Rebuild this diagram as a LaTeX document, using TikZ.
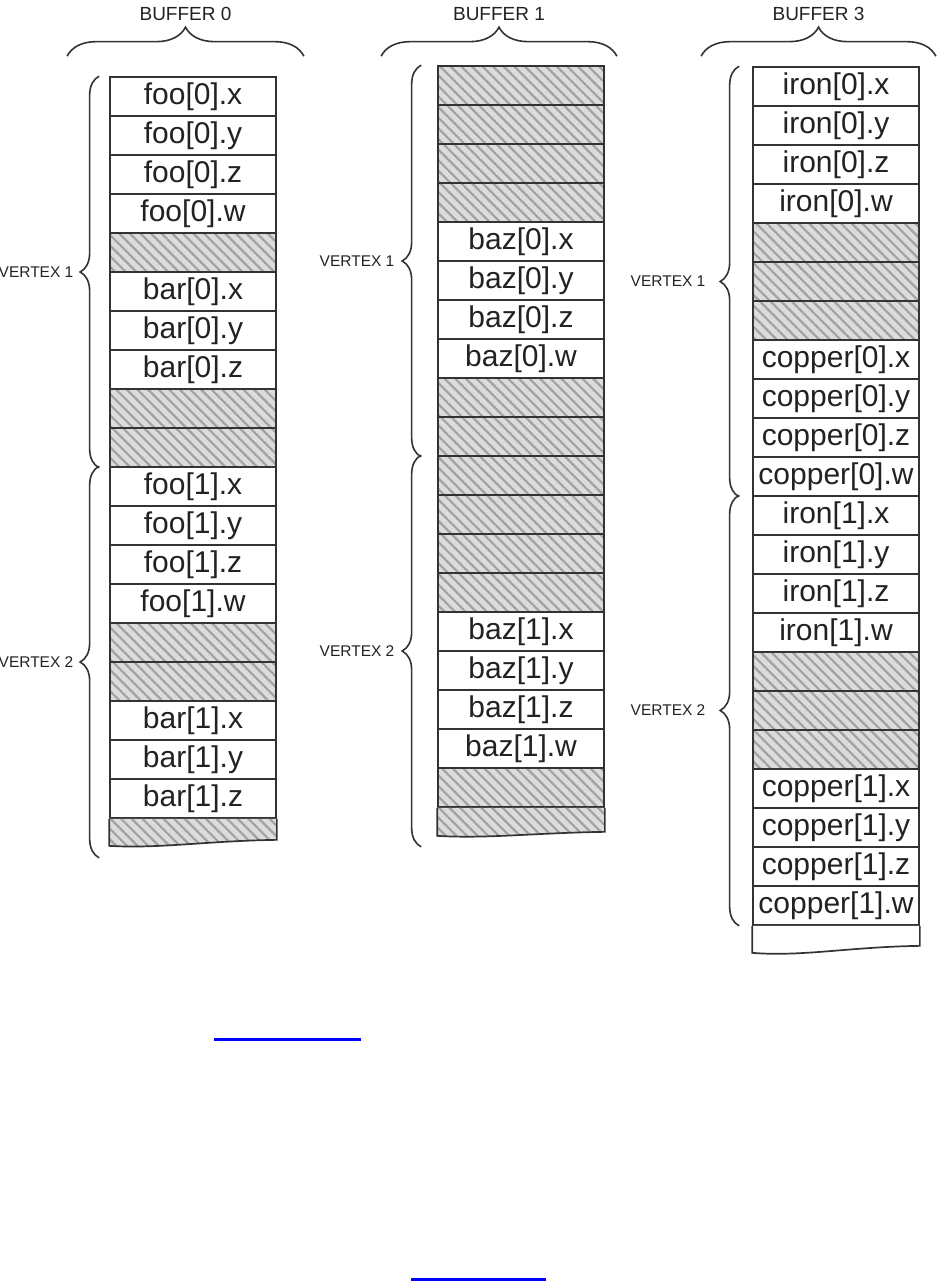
\documentclass[tikz,border=0pt]{standalone}
\usepackage{fontspec}
\setmainfont{Liberation Sans}
\usepackage{xcolor}
\usetikzlibrary{positioning,calc,decorations.pathreplacing,patterns.meta}
\definecolor{linegray}{HTML}{333333}
\definecolor{txtgray}{HTML}{222222}
\definecolor{hatchfill}{HTML}{DCDCDC}
\definecolor{hatchline}{HTML}{A2A2A2}
\definecolor{linkblue}{HTML}{0000FF}
\begin{document}
\begin{tikzpicture}[x=1pt, y=-1pt,
    cell/.style={draw=linegray, line width=1.7pt, fill=white, minimum width=166pt,
                 minimum height=39pt, inner sep=0pt, text=txtgray,
                 font=\fontsize{30}{30}\selectfont},
    hatch/.style={cell, preaction={fill=hatchfill},
                  pattern={Lines[angle=-45, distance=7.5pt, line width=2.2pt]},
                  pattern color=hatchline},
    vbrace/.style={draw=linegray, line width=1.6pt, decorate,
                   decoration={brace, amplitude=19pt}},
    hbrace/.style={draw=linegray, line width=1.6pt, decorate,
                   decoration={brace, amplitude=29pt}},
    vlabel/.style={text=txtgray, inner sep=0pt, font=\fontsize{15.5}{16}\selectfont},
    blabel/.style={text=txtgray, inner sep=0pt, font=\fontsize{19}{19}\selectfont},
    link/.style={draw=linkblue, line width=3pt}
]
\useasboundingbox (0,0) rectangle (937,1281);

% buffer 0
\foreach \s/\t [count=\i] in {cell/foo[0].x, cell/foo[0].y, cell/foo[0].z, cell/foo[0].w,
    hatch/{}, cell/bar[0].x, cell/bar[0].y, cell/bar[0].z, hatch/{}, hatch/{},
    cell/foo[1].x, cell/foo[1].y, cell/foo[1].z, cell/foo[1].w,
    hatch/{}, hatch/{}, cell/bar[1].x, cell/bar[1].y, cell/bar[1].z} {
    \node[\s] (b0c\i) at (193, 57.5+39*\i) {\t};
}
\draw[hatch] (b0c19.south west) -- ($(b0c19.south west)+(0,27)$)
    .. controls +(50,3) and +(-70,1) .. ($(b0c19.south east)+(0,21)$) -- (b0c19.south east);
\draw[vbrace] ($(b0c10.south west)+(-10,0)$) -- ($(b0c1.north west)+(-10,0)$)
    node[vlabel, midway, left=25pt] {VERTEX 1};
\draw[vbrace] ($(b0c19.south west)+(-10,39)$) -- ($(b0c11.north west)+(-10,0)$)
    node[vlabel, midway, left=25pt] {VERTEX 2};
\draw[hbrace] ($(b0c1.north west)+(-42,-20)$) -- ($(b0c1.north east)+(27,-20)$)
    node[blabel, midway, above=35pt] {BUFFER 0};

% buffer 1
\foreach \s/\t [count=\i] in {hatch/{}, hatch/{}, hatch/{}, hatch/{},
    cell/baz[0].x, cell/baz[0].y, cell/baz[0].z, cell/baz[0].w, hatch/{}, hatch/{},
    hatch/{}, hatch/{}, hatch/{}, hatch/{},
    cell/baz[1].x, cell/baz[1].y, cell/baz[1].z, cell/baz[1].w, hatch/{}} {
    \node[\s] (b1c\i) at (521, 46.5+39*\i) {\t};
}
\draw[hatch] (b1c19.south west) -- ($(b1c19.south west)+(0,28)$)
    .. controls +(50,3) and +(-70,1) .. ($(b1c19.south east)+(0,24)$) -- (b1c19.south east);
\draw[vbrace] ($(b1c10.south west)+(-16,0)$) -- ($(b1c1.north west)+(-16,0)$)
    node[vlabel, midway, left=26pt] {VERTEX 1};
\draw[vbrace] ($(b1c19.south west)+(-16,39)$) -- ($(b1c11.north west)+(-16,0)$)
    node[vlabel, midway, left=26pt] {VERTEX 2};
\draw[hbrace] ($(b1c1.north west)+(-56,-9)$) -- ($(b1c1.north east)+(12,-9)$)
    node[blabel, midway, above=35pt] {BUFFER 1};

% buffer 3
\foreach \s/\t [count=\i] in {cell/iron[0].x, cell/iron[0].y, cell/iron[0].z, cell/iron[0].w,
    hatch/{}, hatch/{}, hatch/{},
    cell/copper[0].x, cell/copper[0].y, cell/copper[0].z, cell/copper[0].w,
    cell/iron[1].x, cell/iron[1].y, cell/iron[1].z, cell/iron[1].w,
    hatch/{}, hatch/{}, hatch/{},
    cell/copper[1].x, cell/copper[1].y, cell/copper[1].z, cell/copper[1].w} {
    \node[\s] (b2c\i) at (836, 47.5+39*\i) {\t};
}
\draw[cell] (b2c22.south west) -- ($(b2c22.south west)+(0,27)$)
    .. controls +(50,4) and +(-70,1) .. ($(b2c22.south east)+(0,20)$) -- (b2c22.south east);
\draw[vbrace] ($(b2c11.south west)+(-13,0)$) -- ($(b2c1.north west)+(-13,0)$)
    node[vlabel, midway, left=33pt] {VERTEX 1};
\draw[vbrace] ($(b2c22.south west)+(-13,0)$) -- ($(b2c12.north west)+(-13,0)$)
    node[vlabel, midway, left=33pt] {VERTEX 2};
\draw[hbrace] ($(b2c1.north west)+(-51,-10)$) -- ($(b2c1.north east)+(16,-10)$)
    node[blabel, midway, above=35pt] {BUFFER 3};

% links
\draw[link] (214,1039) -- (361,1039);
\draw[link] (411,1279) -- (546,1279);
\end{tikzpicture}
\end{document}
